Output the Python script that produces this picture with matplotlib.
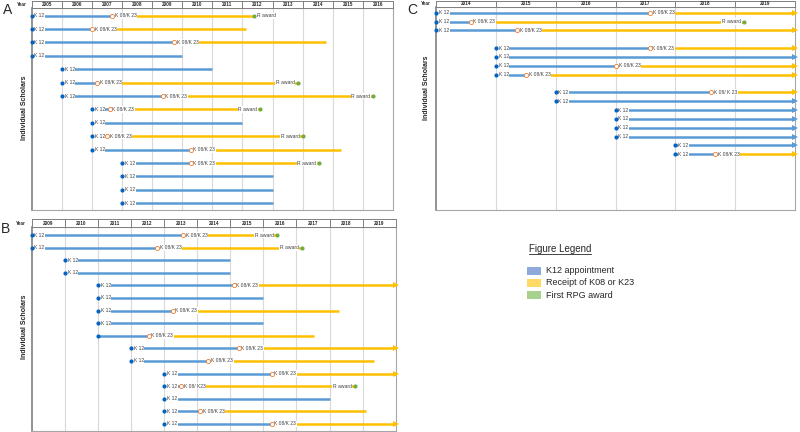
import matplotlib
matplotlib.use("Agg")
import matplotlib.pyplot as plt
from matplotlib.patches import Rectangle
from matplotlib.lines import Line2D

plt.rcParams['font.family'] = ['Liberation Sans', 'DejaVu Sans']

# Panel A (2005-2016)
A_start = [2005, 2005, 2005, 2005, 2006, 2006, 2006, 2007, 2007, 2007, 2007, 2008, 2008, 2008, 2008]
A_k08 = [2007.67, 2007.0, 2009.72, None, None, 2007.17, 2009.35, 2007.59, None, 2007.5, 2010.28, 2010.28, None, None, None]
A_end = [2012.39, 2012.11, 2014.78, 2010.0, 2011.0, 2013.83, 2016.35, 2012.59, 2012.0, 2014.0, 2015.28, 2014.55, 2013.0, 2013.0, 2013.0]
A_award = [1, 0, 0, 0, 0, 1, 1, 1, 0, 1, 0, 1, 0, 0, 0]
A_rows = list(range(15))

# Panel B (2009-2019)
B_start = [2009, 2009, 2010, 2010, 2011, 2011, 2011, 2011, 2011, 2012, 2012, 2013, 2013, 2013, 2013, 2013]
B_k08 = [2013.57, 2012.78, None, None, 2015.1, None, 2013.26, None, 2012.53, 2015.25, 2014.34, 2016.25, 2013.52, None, 2014.09, 2016.25]
B_end = [2016.41, 2017.16, 2015.0, 2015.0, 2020.1, 2016.0, 2018.3, 2016.0, 2017.52, 2020.1, 2019.35, 2020.1, 2018.76, 2018.0, 2019.1, 2020.1]
B_award = [1, 1, 0, 0, 0, 0, 0, 0, 0, 0, 0, 0, 1, 0, 0, 0]
B_rows = list(range(16))
B_k12_text = ["K 12"] * 8 + [""] + ["K 12"] * 7
B_k08_text = ["K 08/K 23"] * 12 + ["K 08/ K23"] + ["K 08/K 23"] * 3

# Panel C (2014-2019)
C_rows = [0, 1, 2, 4, 5, 6, 7, 9, 10, 11, 12, 13, 14, 15, 16]
C_start = [2014, 2014, 2014, 2015, 2015, 2015, 2015, 2016, 2016, 2017, 2017, 2017, 2017, 2018, 2018]
C_k08 = [2017.58, 2014.58, 2015.35, 2017.57, None, 2017.01, 2015.5, 2018.6, None, None, None, None, None, None, 2018.66]
C_end = [2020.1, 2019.15, 2020.1, 2020.1, 2020.1, 2020.1, 2020.1, 2020.1, 2020.1, 2020.1, 2020.1, 2020.1, 2020.1, 2020.1, 2020.1]
C_award = [0, 1, 0, 0, 0, 0, 0, 0, 0, 0, 0, 0, 0, 0, 0]
C_k08_text = ["K 08/K 23"] * 7 + ["K 08/ K 23"] + ["K 08/K 23"] * 7

legend_labels = ["K12 appointment", "Receipt of K08 or K23", "First RPG award"]
legend_colors = ["#8eaadb", "#ffd966", "#a9d18e"]

BLUE = "#5b9bd5"
DOT = "#0563c1"
YEL = "#ffc000"
ORANGE = "#ed7d31"
GREEN = "#70ad47"

W, H = 800, 432
fig = plt.figure(figsize=(8, 4.32), dpi=100)


def px_axes(x0, y0, x1, y1):
    return fig.add_axes([x0 / W, 1 - y1 / H, (x1 - x0) / W, (y1 - y0) / H])


def lab(ax, x, y, s, dx, ha='left'):
    ax.annotate(s, xy=(x, y), xytext=(dx, 0), textcoords='offset points',
                ha=ha, va='center', fontsize=3.6, color='#404040', zorder=4,
                bbox=dict(boxstyle='square,pad=0.12', fc='white', ec='none'),
                annotation_clip=False)


def draw(ax, hax, xmin, xmax, ylims, rows, start, k08, end, award,
         k12_text=None, k08_text=None, award_right=()):
    ax.set_xlim(xmin, xmax)
    ax.set_ylim(*ylims)
    ax.set_xticks([])
    ax.set_yticks([])
    for s in ax.spines.values():
        s.set_color('#a6a6a6')
        s.set_linewidth(0.8)
    ax.spines['left'].set_color('#808080')
    ax.spines['left'].set_linewidth(1.2)
    for yr in range(xmin + 1, xmax):
        ax.axvline(yr, color='#d9d9d9', lw=0.8, zorder=0)

    # header row with years
    hax.set_xlim(xmin, xmax)
    hax.set_ylim(0, 1)
    hax.set_xticks([])
    hax.set_yticks([])
    for s in hax.spines.values():
        s.set_color('#808080')
        s.set_linewidth(0.7)
    for yr in range(xmin + 1, xmax):
        hax.axvline(yr, color='#808080', lw=0.7)
    for yr in range(xmin, xmax):
        hax.text(yr + 0.5, 0.5, str(yr), ha='center', va='center',
                 fontsize=3.3, fontweight='bold', color='#262626')
    hax.text(-0.015, 0.5, "Year", transform=hax.transAxes, ha='right',
             va='center', fontsize=3.3, fontweight='bold', color='#262626')

    for i, r in enumerate(rows):
        s, k, e = start[i], k08[i], end[i]
        arrow = e > xmax
        e_line = xmax if arrow else e
        if k is None:
            ax.plot([s, e_line], [r, r], color=BLUE, lw=1.8,
                    solid_capstyle='butt', zorder=1, clip_on=False)
            tip_col = BLUE
        else:
            ax.plot([s, k], [r, r], color=BLUE, lw=1.8,
                    solid_capstyle='butt', zorder=1)
            ax.plot([k, e_line], [r, r], color=YEL, lw=1.8,
                    solid_capstyle='butt', zorder=1, clip_on=False)
            tip_col = YEL
            txt = k08_text[i] if k08_text else "K 08/K 23"
            lab(ax, k, r, txt, 2.0)
            ax.plot(k, r, 'o', ms=3.0, mfc='white', mec=ORANGE, mew=0.6,
                    zorder=5)
        if arrow:
            ax.plot(e_line, r, '>', ms=4.0, color=tip_col, mew=0,
                    zorder=6, clip_on=False)
        t = k12_text[i] if k12_text else "K 12"
        if t:
            lab(ax, s, r, t, 2.0)
        ax.plot(s, r, 'o', ms=3.0, color=DOT, mew=0, zorder=5,
                clip_on=False)
        if award[i]:
            if i in award_right:
                lab(ax, e, r, "R award", 2.2)
            else:
                lab(ax, e, r, "R award", -2.2, ha='right')
            ax.plot(e, r, 'o', ms=3.0, color=GREEN, mew=0, zorder=5)


# panel A
axA = px_axes(31.7, 8.3, 393, 210)
hA = px_axes(31.7, 1, 393, 8.3)
draw(axA, hA, 2005, 2017, (14.5, -0.55), A_rows, A_start, A_k08, A_end,
     A_award, award_right=(0,))

# panel B
axB = px_axes(31.7, 226.7, 395.7, 431)
hB = px_axes(31.7, 219.5, 395.7, 226.7)
draw(axB, hB, 2009, 2020, (15.56, -0.66), B_rows, B_start, B_k08, B_end,
     B_award, k12_text=B_k12_text, k08_text=B_k08_text)

# panel C
axC = px_axes(436, 7.3, 795, 210)
hC = px_axes(436, 0.5, 795, 7.3)
draw(axC, hC, 2014, 2020, (22.3, -0.61), C_rows, C_start, C_k08, C_end,
     C_award, k08_text=C_k08_text)

# y labels and panel letters
for x, y in [(25, 108), (25, 327), (426, 88)]:
    fig.text(x / W, 1 - y / H, "Individual Scholars", rotation=90,
             ha='center', va='center', fontsize=5, fontweight='bold',
             color='#262626')
for x, y, s in [(8, 10, "A"), (6, 229, "B"), (412, 10, "C")]:
    fig.text(x / W, 1 - y / H, s, ha='center', va='center', fontsize=10,
             color='#262626')

# legend
fig.text(560 / W, 1 - 249 / H, "Figure Legend", ha='center', va='center',
         fontsize=7, color='#262626')
fig.add_artist(Line2D([529 / W, 591 / W], [1 - 254 / H, 1 - 254 / H],
                      transform=fig.transFigure, color='#262626', lw=0.6))
for j, (lbl, c) in enumerate(zip(legend_labels, legend_colors)):
    yc = 270.7 + 12.2 * j
    fig.add_artist(Rectangle((527 / W, 1 - (yc + 4) / H), 14 / W, 8 / H,
                             transform=fig.transFigure, fc=c, ec='none'))
    fig.text(546 / W, 1 - yc / H, lbl, ha='left', va='center', fontsize=6.5,
             color='#262626')

fig.savefig("out.png", dpi=100, facecolor='white')
